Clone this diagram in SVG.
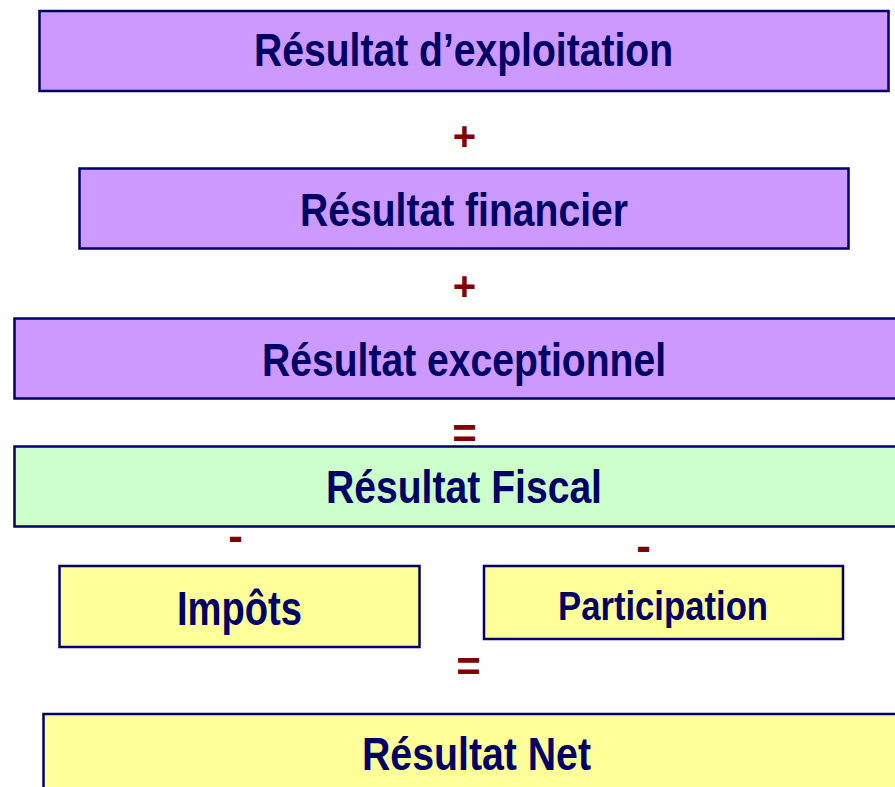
<svg xmlns="http://www.w3.org/2000/svg" width="895" height="787" viewBox="0 0 895 787">
<style>
.box{stroke:#000066;stroke-width:2.5}
.p{fill:#CC99FF}
.g{fill:#CCFFCC}
.y{fill:#FFFF99}
.t{font-family:"Liberation Sans",Arial,sans-serif;font-weight:bold;fill:#000066;text-anchor:middle}
.s{font-family:"Liberation Sans",Arial,sans-serif;font-weight:bold;fill:#800000;text-anchor:middle}
</style>
<rect width="895" height="787" fill="#ffffff"/>
<g id="exploitation">
<rect class="box p" x="39.5" y="11" width="849" height="80"/>
<text class="t" x="463.5" y="66" font-size="46" textLength="419" lengthAdjust="spacingAndGlyphs">Résultat d’exploitation</text>
</g>
<g id="financier">
<rect class="box p" x="79.5" y="168.5" width="769" height="80"/>
<text class="t" x="464" y="226" font-size="46" textLength="328" lengthAdjust="spacingAndGlyphs">Résultat financier</text>
</g>
<g id="exceptionnel">
<rect class="box p" x="14.5" y="318.5" width="895" height="80"/>
<text class="t" x="464" y="376" font-size="46" textLength="404" lengthAdjust="spacingAndGlyphs">Résultat exceptionnel</text>
</g>
<g id="fiscal">
<rect class="box g" x="14.5" y="446.5" width="895" height="80"/>
<text class="t" x="464" y="503" font-size="46" textLength="276" lengthAdjust="spacingAndGlyphs">Résultat Fiscal</text>
</g>
<g id="impots">
<rect class="box y" x="59.5" y="566" width="360" height="81"/>
<text class="t" x="239.5" y="625" font-size="48" textLength="125" lengthAdjust="spacingAndGlyphs">Impôts</text>
</g>
<g id="participation">
<rect class="box y" x="484" y="566" width="359" height="73"/>
<text class="t" x="663" y="620" font-size="40" textLength="210" lengthAdjust="spacingAndGlyphs">Participation</text>
</g>
<g id="net">
<rect class="box y" x="43.5" y="714" width="870" height="100"/>
<text class="t" x="476.5" y="770" font-size="46" textLength="229" lengthAdjust="spacingAndGlyphs">Résultat Net</text>
</g>
<g id="connectors">
<text class="s" x="464.5" y="150" font-size="40">+</text>
<text class="s" x="464.5" y="300" font-size="40">+</text>
<text class="s" x="464.5" y="448" font-size="42">=</text>
<text class="s" x="235.5" y="551" font-size="44">-</text>
<text class="s" x="643.5" y="561" font-size="44">-</text>
<text class="s" x="468.5" y="681" font-size="42">=</text>
</g>
</svg>
